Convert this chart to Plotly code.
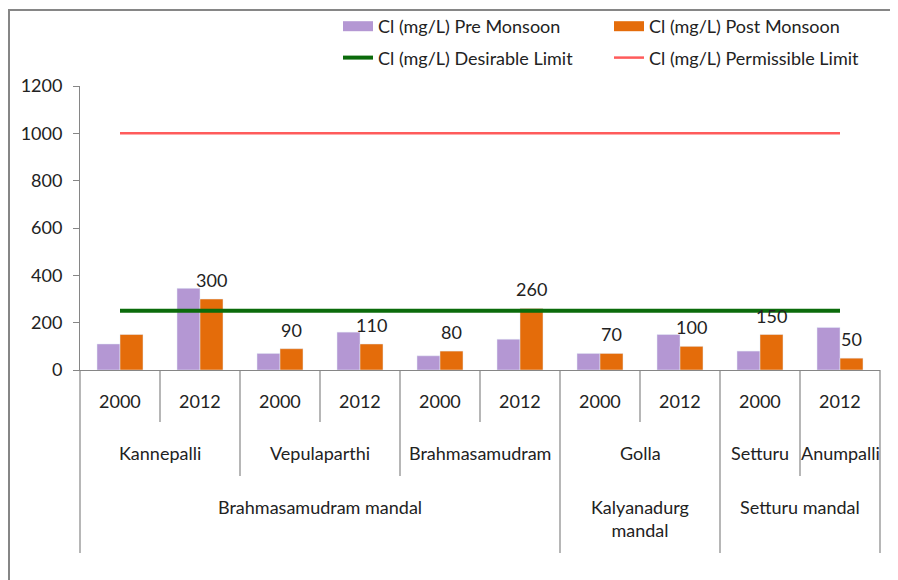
import plotly.graph_objects as go

# chart data
years = ["2000", "2012", "2000", "2012", "2000", "2012", "2000", "2012", "2000", "2012"]
villages = ["Kannepalli", "Kannepalli", "Vepulaparthi", "Vepulaparthi", "Brahmasamudram",
            "Brahmasamudram", "Golla", "Golla", "Setturu", "Anumpalli"]
mandals = ["Brahmasamudram mandal"] * 6 + ["Kalyanadurg<br>mandal"] * 2 + ["Setturu mandal"] * 2
pre_monsoon = [110, 345, 70, 160, 60, 130, 70, 150, 80, 180]
post_monsoon = [150, 300, 90, 110, 80, 260, 70, 100, 150, 50]
post_labels = ["", "300", "90", "110", "80", "260", "70", "100", "150", "50"]
desirable_limit = 250
permissible_limit = 1000

FONT = "Lato, Liberation Sans, Arial, sans-serif"
TXT = "#222222"
GREY = "#868686"
PURPLE = "#b497d3"
ORANGE = "#e46c0a"
FS = 18

# page has an 8px body margin, so the figure is drawn 8px smaller
W, H = 890, 572
ML, MT, PLOT_W, PLOT_H = 72, 78, 800, 284

n = len(years)
xs = list(range(n))

fig = go.Figure()
fig.add_trace(go.Bar(x=xs, y=pre_monsoon, name="Cl (mg/L) Pre Monsoon", marker_color=PURPLE,
                     legendgroup="a", showlegend=False))
fig.add_trace(go.Bar(x=xs, y=post_monsoon, name="Cl (mg/L) Post Monsoon", marker_color=ORANGE,
                     legendgroup="b", showlegend=False))
# wide rectangular legend swatches for the bars (like the original)
fig.add_trace(go.Scatter(x=[None], y=[None], mode="lines", name="Cl (mg/L) Pre Monsoon",
                         line=dict(color=PURPLE, width=10), legend="legend", legendgroup="a"))
fig.add_trace(go.Scatter(x=[None], y=[None], mode="lines", name="Cl (mg/L) Post Monsoon",
                         line=dict(color=ORANGE, width=10), legend="legend2", legendgroup="b"))
fig.add_trace(go.Scatter(x=[xs[0], xs[-1]], y=[desirable_limit] * 2, mode="lines",
                         name="Cl (mg/L) Desirable Limit", line=dict(color="#0b6b0b", width=4),
                         legend="legend", legendgroup="c"))
fig.add_trace(go.Scatter(x=[xs[0], xs[-1]], y=[permissible_limit] * 2, mode="lines",
                         name="Cl (mg/L) Permissible Limit", line=dict(color="#ff5b5b", width=2.5),
                         legend="legend2", legendgroup="d"))

bargap = 0.425
bw = (1 - bargap) / 2

# value labels above the post monsoon bars
for i in xs:
    if post_labels[i]:
        fig.add_annotation(x=i + bw / 2, y=post_monsoon[i], text=post_labels[i], showarrow=False,
                           yshift=19, font=dict(size=FS, color=TXT, family=FONT))


def groups(labels):
    out = []
    start = 0
    for i in range(1, n + 1):
        if i == n or labels[i] != labels[i - 1]:
            out.append((labels[start], (start + i - 1) / 2))
            start = i
    return out


# category table under the axis
for i in xs:
    fig.add_annotation(x=i, y=0, text=years[i], showarrow=False, yshift=-31,
                       font=dict(size=FS, color=TXT, family=FONT))
for txt, cx in groups(villages):
    fig.add_annotation(x=cx, y=0, text=txt, showarrow=False, yshift=-83,
                       font=dict(size=FS, color=TXT, family=FONT))
for txt, cx in groups(mandals):
    shift = -148 if "<br>" in txt else -137
    fig.add_annotation(x=cx, y=0, text=txt, showarrow=False, yshift=shift,
                       font=dict(size=FS, color=TXT, family=FONT))

# separators between categories (depth grows with the level that changes)
bounds = [(-0.5, 183)]
for i in range(n - 1):
    if mandals[i] != mandals[i + 1]:
        depth = 183
    elif villages[i] != villages[i + 1]:
        depth = 106
    else:
        depth = 52
    bounds.append((i + 0.5, depth))
bounds.append((n - 0.5, 183))
for bx, depth in bounds:
    px = (bx + 0.5) / n
    fig.add_shape(type="line", xref="paper", yref="paper", x0=px, x1=px,
                  y0=0, y1=-depth / PLOT_H, line=dict(color=GREY, width=1.2))

# outer chart border (only top/left visible in the crop)
fig.add_shape(type="rect", xref="paper", yref="paper",
              x0=(1 - ML) / PLOT_W, x1=1.2, y0=-1.2, y1=1 + (MT - 2) / PLOT_H,
              line=dict(color=GREY, width=2), fillcolor="rgba(0,0,0,0)", layer="below")

legend_common = dict(orientation="v", xref="container", yref="container", xanchor="left",
                     yanchor="top", font=dict(size=FS, color=TXT, family=FONT),
                     tracegroupgap=5, bgcolor="rgba(0,0,0,0)", traceorder="grouped")

fig.update_layout(
    width=W, height=H,
    margin=dict(l=ML, r=W - ML - PLOT_W, t=MT, b=H - MT - PLOT_H, autoexpand=False),
    paper_bgcolor="white", plot_bgcolor="white",
    barmode="group", bargap=bargap, bargroupgap=0,
    font=dict(family=FONT, size=FS, color=TXT),
    showlegend=True,
    legend=dict(x=330 / W, y=1 + 1 / H, **legend_common),
    legend2=dict(x=601 / W, y=1 + 1 / H, **legend_common),
    xaxis=dict(range=[-0.5, n - 0.5], showticklabels=False, showgrid=False, zeroline=False,
               showline=True, linecolor=GREY, linewidth=1, ticks=""),
    yaxis=dict(range=[0, 1200], dtick=200, showgrid=False, zeroline=False, showline=True,
               linecolor=GREY, linewidth=1, ticks="outside", ticklen=6, tickcolor=GREY,
               ticklabelstandoff=7, tickfont=dict(size=FS, color=TXT, family=FONT)),
)

fig.write_html("out.html")
